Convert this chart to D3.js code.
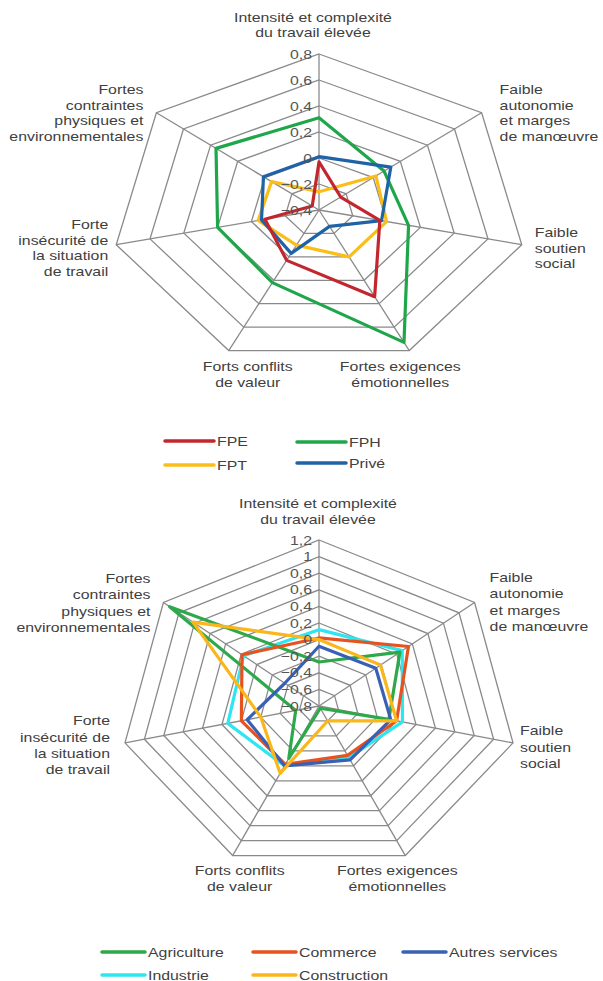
<!DOCTYPE html>
<html>
<head>
<meta charset="utf-8">
<script src="https://cdn.jsdelivr.net/npm/d3@7.9.0/dist/d3.min.js"></script>
<style>
  body { margin: 0; background: #fff; }
  text { font-family: "Liberation Sans", Arial, sans-serif; fill: #404040; }
</style>
</head>
<body>
<svg width="603" height="981"></svg>
<script>
// axes (same for both charts), clockwise from top
const axisLabels = [
  ['Intensité et complexité', 'du travail élevée'],
  ['Faible', 'autonomie', 'et marges', 'de manœuvre'],
  ['Faible', 'soutien', 'social'],
  ['Fortes exigences', 'émotionnelles'],
  ['Forts conflits', 'de valeur'],
  ['Forte', 'insécurité de', 'la situation', 'de travail'],
  ['Fortes', 'contraintes', 'physiques et', 'environnementales']
];

// chart 1 : fonctions publiques / privé
const ticks1 = [-0.4, -0.2, 0, 0.2, 0.4, 0.6, 0.8];
const series1 = ['FPE', 'FPH', 'FPT', 'Privé'];
const fpe   = [-0.03, -0.24, -0.04, 0.34, 0.03, -0.08, -0.35];
const fph   = [0.31, 0.08, 0.13, 0.73, 0.22, 0.20, 0.36];
const fpt   = [-0.26, 0.02, 0.00, 0.00, -0.10, -0.04, -0.05];
const prive = [0.01, 0.13, -0.03, -0.26, -0.03, -0.06, 0.01];

// chart 2 : secteurs
const ticks2 = [-0.8, -0.6, -0.4, -0.2, 0, 0.2, 0.4, 0.6, 0.8, 1, 1.2];
const series2 = ['Agriculture', 'Commerce', 'Autres services', 'Industrie', 'Construction'];
const agriculture  = [-0.27, 0.24, -0.08, -0.77, -0.10, -0.56, 1.12];
const commerce     = [0.02, 0.35, 0.00, -0.14, -0.02, 0.00, 0.19];
const autres       = [-0.08, -0.07, -0.06, -0.08, 0.00, -0.06, -0.36];
const industrie    = [0.12, 0.27, 0.06, -0.11, 0.00, 0.14, 0.17];
const construction = [0.00, -0.01, 0.00, -0.60, 0.10, -0.20, 0.82];

const svg = d3.select('svg');
const fr = d3.formatLocale({decimal: ',', thousands: ' ', grouping: [3], currency: ['', '€']});
const fmt = fr.format('~r');
const SX = 1.22; // reference is stretched horizontally

function drawRadar(cfg) {
  const n = axisLabels.length;
  const angle = i => i * 2 * Math.PI / n;
  const r = d3.scaleLinear().domain(d3.extent(cfg.ticks)).range([0, 1]);
  const pt = (i, v) => [
    cfg.cx + r(v) * cfg.rx * Math.sin(angle(i)),
    cfg.cy - r(v) * cfg.ry * Math.cos(angle(i))
  ];
  const g = svg.append('g');
  const line = d3.line().curve(d3.curveLinearClosed);

  // rings
  g.selectAll('.ring').data(cfg.ticks.slice(1)).join('path')
    .attr('d', t => line(d3.range(n).map(i => pt(i, t))))
    .attr('fill', 'none').attr('stroke', '#8a8a8a').attr('stroke-width', 1.3);
  // spokes
  const top = cfg.ticks[cfg.ticks.length - 1];
  g.selectAll('.spoke').data(d3.range(n)).join('line')
    .attr('x1', cfg.cx).attr('y1', cfg.cy)
    .attr('x2', i => pt(i, top)[0]).attr('y2', i => pt(i, top)[1])
    .attr('stroke', '#8a8a8a').attr('stroke-width', 1.3);

  // series
  cfg.order.forEach(k => {
    const s = cfg.series[k];
    g.append('path')
      .attr('d', line(s.values.map((v, i) => pt(i, v))))
      .attr('fill', 'none').attr('stroke', s.color)
      .attr('stroke-width', 3.2).attr('stroke-linejoin', 'round');
  });

  // tick labels
  cfg.ticks.forEach(t => {
    const p = pt(0, t);
    g.append('text')
      .attr('transform', `translate(${cfg.cx - 7},${p[1] + 4.5}) scale(${SX},1)`)
      .attr('text-anchor', 'end').attr('font-size', 13).style('fill', '#555')
      .text(fmt(t));
  });

  // axis labels
  axisLabels.forEach((lines, i) => {
    const p = pt(i, top);
    const o = cfg.labelOff[i];
    const anchor = o[2];
    lines.forEach((s, j) => {
      g.append('text')
        .attr('transform', `translate(${p[0] + o[0]},${p[1] + o[1] + j * cfg.lh + 4.5}) scale(${SX},1)`)
        .attr('text-anchor', anchor).attr('font-size', 13)
        .text(s);
    });
  });

  // legend
  cfg.legend.forEach((pos, k) => {
    const s = cfg.series[k];
    g.append('line')
      .attr('x1', pos[0]).attr('x2', pos[0] + cfg.legLen)
      .attr('y1', pos[1]).attr('y2', pos[1])
      .attr('stroke', s.color).attr('stroke-width', 3.5).attr('stroke-linecap', 'round');
    g.append('text')
      .attr('transform', `translate(${pos[0] + cfg.legLen + 3},${pos[1] + 4.5}) scale(${SX},1)`)
      .attr('font-size', 13).text(s.name);
  });
}

const colors1 = ['#c1272d', '#1fa64b', '#fbbd18', '#1f63a6'];
drawRadar({
  cx: 319, cy: 210, rx: 208, ry: 156, lh: 15.5,
  ticks: ticks1,
  series: [fpe, fph, fpt, prive].map((v, k) => ({name: series1[k], values: v, color: colors1[k]})),
  order: [1, 2, 3, 0],
  labelOff: [[-6, -37, 'middle'], [18, -23, 'start'], [13, -12, 'start'], [-9, 16, 'middle'],
             [19, 16, 'middle'], [-8, -20, 'end'], [-13, -23, 'end']],
  legend: [[165, 441], [297, 442], [165, 465], [297, 463]],
  legLen: 49
});

const colors2 = ['#2ea84a', '#e8521f', '#3a60b6', '#2ee6f0', '#fbb71a'];
drawRadar({
  cx: 319, cy: 706, rx: 199, ry: 166, lh: 16.3,
  ticks: ticks2,
  series: [agriculture, commerce, autres, industrie, construction].map((v, k) => ({name: series2[k], values: v, color: colors2[k]})),
  order: [3, 0, 1, 2, 4],
  labelOff: [[-1, -37, 'middle'], [15, -25, 'start'], [7, -12, 'start'], [-8, 15, 'middle'],
             [7, 15, 'middle'], [-15, -22, 'end'], [-13, -24, 'end']],
  legend: [[102, 952], [253, 952], [403, 952], [102, 975], [253, 975]],
  legLen: 43
});
</script>
</body>
</html>
